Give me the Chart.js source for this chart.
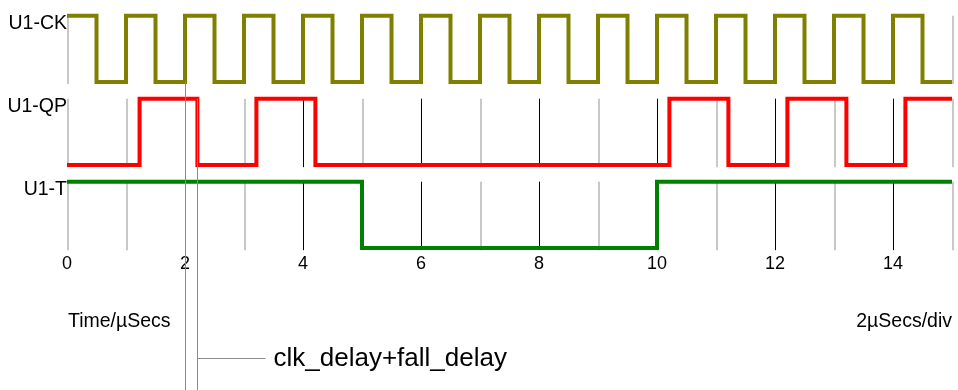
<!DOCTYPE html>
<html>
<head>
<meta charset="utf-8">
<title>U1 toggle flip-flop timing</title>
<script src="https://cdn.jsdelivr.net/npm/chart.js@4.4.1/dist/chart.umd.min.js"></script>
<style>
    html, body { margin: 0; padding: 0; background: #fff; }
    canvas { display: block; }
</style>
</head>
<body>
<canvas id="wave" width="958" height="390"></canvas>
<script>
// ============ Data ============

const SIGNAL_NAMES = ['U1-CK', 'U1-QP', 'U1-T'];

// edge times (µs) and the logic level that starts at each edge
const CK_TIMES  = [0, 0.5, 1, 1.5, 2, 2.5, 3, 3.5, 4, 4.5, 5, 5.5, 6, 6.5, 7, 7.5,
                   8, 8.5, 9, 9.5, 10, 10.5, 11, 11.5, 12, 12.5, 13, 13.5, 14, 14.5, 15];
const CK_LEVELS = [1, 0, 1, 0, 1, 0, 1, 0, 1, 0, 1, 0, 1, 0, 1, 0,
                   1, 0, 1, 0, 1, 0, 1, 0, 1, 0, 1, 0, 1, 0, 0];

const QP_TIMES  = [0, 1.23, 2.21, 3.21, 4.21, 10.21, 11.21, 12.21, 13.21, 14.21, 15];
const QP_LEVELS = [0, 1, 0, 1, 0, 1, 0, 1, 0, 1, 1];

const T_TIMES  = [0, 5, 10, 15];
const T_LEVELS = [1, 0, 1, 1];

const X_TICKS = [0, 2, 4, 6, 8, 10, 12, 14];
const GRID_TIMES = [0, 1, 2, 3, 4, 5, 6, 7, 8, 9, 10, 11, 12, 13, 14, 15];

// clock edge -> QP edge it causes
const DELAY_FROM = 2;
const DELAY_TO = 2.21;
const DELAY_LABEL = 'clk_delay+fall_delay';

const X_TITLE = 'Time/µSecs';
const X_DIV_NOTE = '2µSecs/div';

// ============ Lane layout ============

const LEVEL_HEIGHT = 0.8;   // high level, in lane units
const LABEL_OFFSET = 0.70;  // where the row name sits inside a lane
const FONT = '"Liberation Sans", Arial, sans-serif';

function laneBase(i) {
    return SIGNAL_NAMES.length - 1 - i;
}

function toPoints(times, levels, lane) {
    return times.map((t, i) => ({ x: t, y: laneBase(lane) + levels[i] * LEVEL_HEIGHT }));
}

const traces = [
    { times: CK_TIMES, levels: CK_LEVELS, color: '#808000' },
    { times: QP_TIMES, levels: QP_LEVELS, color: '#ff0000' },
    { times: T_TIMES, levels: T_LEVELS, color: '#008000' }
];

// ============ Plugins ============

// per-lane vertical grid, grey on odd µs, black on labelled ticks
const laneGrid = {
    id: 'laneGrid',
    beforeDatasetsDraw(chart) {
        const { ctx, scales: { x, y } } = chart;
        ctx.save();
        SIGNAL_NAMES.forEach((name, i) => {
            const top = y.getPixelForValue(laneBase(i) + LEVEL_HEIGHT);
            const bottom = y.getPixelForValue(laneBase(i) - 0.025);
            GRID_TIMES.forEach(t => {
                const major = t > 0 && X_TICKS.includes(t);
                const px = Math.round(x.getPixelForValue(t));
                ctx.beginPath();
                ctx.strokeStyle = major ? '#000' : '#c8c8c8';
                ctx.lineWidth = major ? 1 : 2;
                const xx = major ? px + 0.5 : px + 1;
                ctx.moveTo(xx, top);
                ctx.lineTo(xx, bottom);
                ctx.stroke();
            });
        });
        ctx.restore();
    }
};

// delay marker and the axis captions under the plot
const notes = {
    id: 'notes',
    afterDraw(chart) {
        const { ctx, chartArea, scales: { x, y } } = chart;
        const xa = Math.round(x.getPixelForValue(DELAY_FROM)) + 0.5;
        const xb = Math.round(x.getPixelForValue(DELAY_TO)) + 0.5;
        const arrowY = 358.5;

        ctx.save();
        ctx.strokeStyle = '#8c8c8c';
        ctx.lineWidth = 1;
        ctx.beginPath();
        ctx.moveTo(xa, y.getPixelForValue(laneBase(0)));
        ctx.lineTo(xa, chart.height);
        ctx.moveTo(xb, y.getPixelForValue(laneBase(1) + LEVEL_HEIGHT));
        ctx.lineTo(xb, chart.height);
        ctx.moveTo(xb, arrowY);
        ctx.lineTo(xb + 68, arrowY);
        ctx.stroke();

        ctx.fillStyle = '#000';
        ctx.textBaseline = 'middle';
        ctx.font = '26px ' + FONT;
        ctx.textAlign = 'left';
        ctx.fillText(DELAY_LABEL, xb + 76, arrowY);

        ctx.font = '19.5px ' + FONT;
        ctx.fillText(X_TITLE, chartArea.left + 1, 322);
        ctx.textAlign = 'right';
        ctx.fillText(X_DIV_NOTE, chartArea.right, 322);
        ctx.restore();
    }
};

// ============ Chart ============

new Chart(document.getElementById('wave'), {
    type: 'line',
    data: {
        datasets: traces.map((tr, i) => ({
            label: SIGNAL_NAMES[i],
            data: toPoints(tr.times, tr.levels, i),
            borderColor: tr.color,
            borderWidth: 4,
            stepped: true,
            pointRadius: 0,
            borderJoinStyle: 'miter',
            borderCapStyle: 'butt',
            fill: false,
            clip: false
        }))
    },
    options: {
        responsive: false,
        animation: false,
        events: [],
        layout: { padding: { top: 8, right: 6, left: 0, bottom: 0 } },
        plugins: {
            legend: { display: false },
            tooltip: { enabled: false }
        },
        scales: {
            x: {
                type: 'linear',
                min: 0,
                max: 15,
                grid: { display: false, drawTicks: false },
                border: { display: false },
                afterBuildTicks: (scale) => {
                    scale.ticks = X_TICKS.map(v => ({ value: v }));
                },
                afterFit: (scale) => { scale.height = 138; },
                ticks: {
                    autoSkip: false,
                    maxRotation: 0,
                    padding: 1,
                    color: '#000',
                    font: { family: FONT, size: 18 }
                }
            },
            y: {
                type: 'linear',
                min: -0.0475,
                max: 2.8475,
                grid: { display: false, drawTicks: false },
                border: { display: false },
                afterBuildTicks: (scale) => {
                    scale.ticks = SIGNAL_NAMES.map((n, i) => ({ value: laneBase(i) + LABEL_OFFSET }));
                },
                afterFit: (scale) => { scale.width = 67; },
                ticks: {
                    padding: 0,
                    color: '#000',
                    font: { family: FONT, size: 19.5 },
                    callback: (value, index) => SIGNAL_NAMES[index]
                }
            }
        }
    },
    plugins: [laneGrid, notes]
});
</script>
</body>
</html>
